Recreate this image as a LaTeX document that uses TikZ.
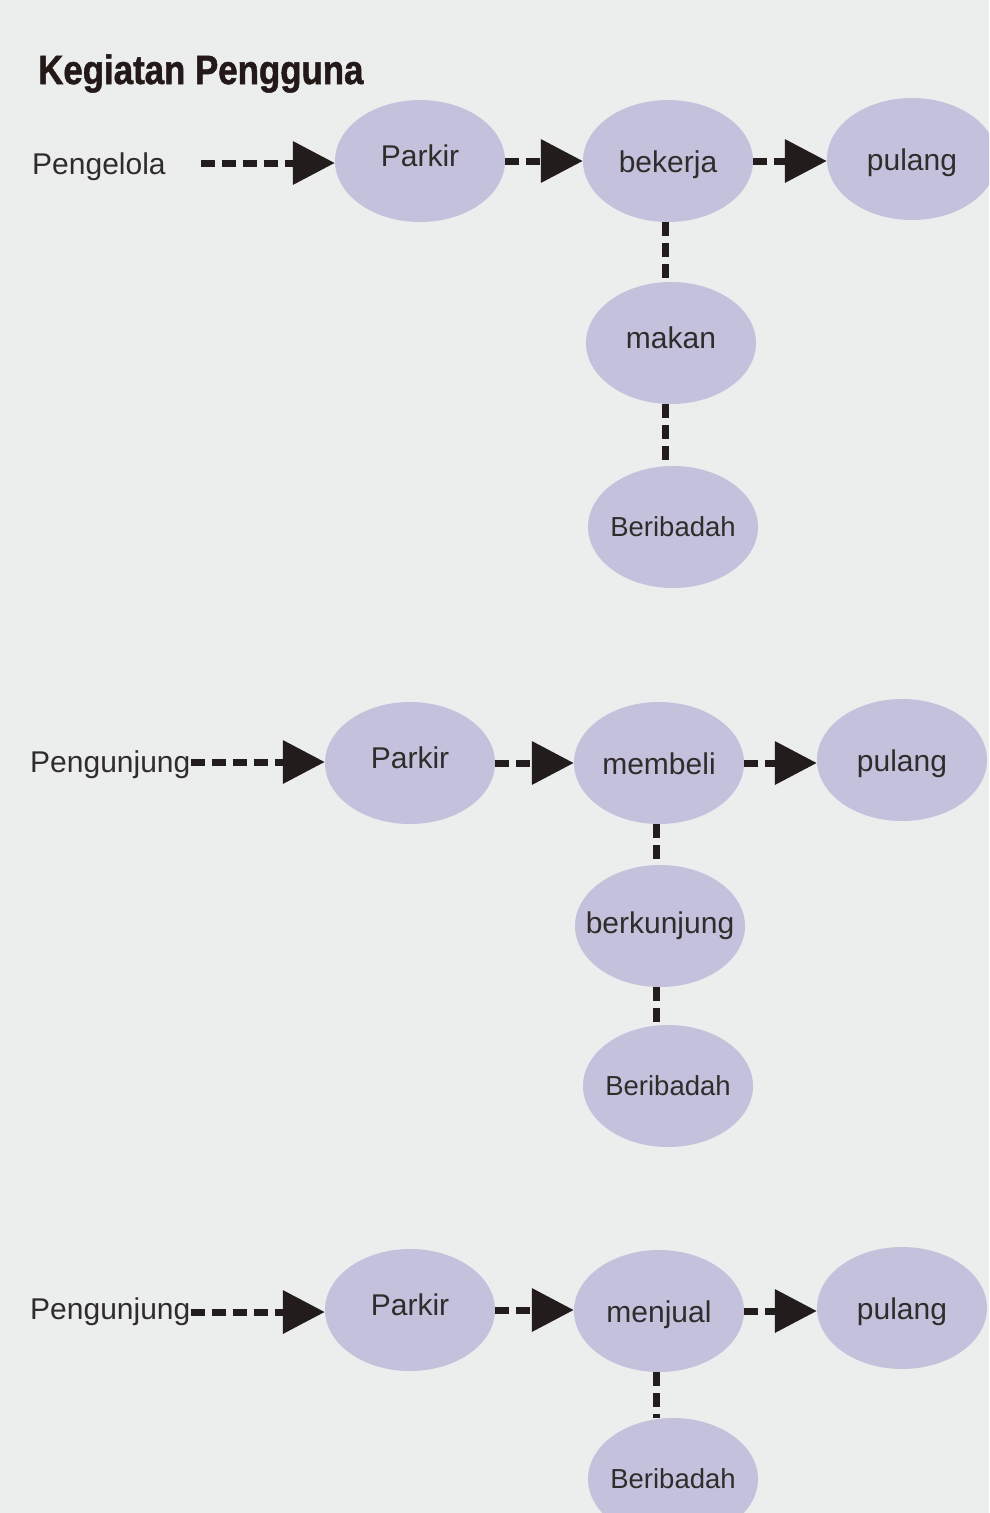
\documentclass[tikz,border=0pt]{standalone}
\usepackage{fontspec}
\setmainfont{Liberation Sans}
\newfontfamily\titlefont{Liberation Sans}[FakeStretch=0.85,FakeBold=1.2]
\usetikzlibrary{shapes.geometric,arrows.meta}
\definecolor{bg}{RGB}{236,237,237}
\definecolor{lav}{RGB}{196,193,220}
\definecolor{ink}{RGB}{48,44,44}
\definecolor{arrowc}{RGB}{35,28,28}
\definecolor{titlec}{RGB}{35,25,25}
\newcommand{\ellt}[1]{\makebox[0pt]{#1}}
\begin{document}
\begin{tikzpicture}[x=1pt,y=-1pt,
  bub/.style={ellipse, fill=lav, minimum width=170pt, minimum height=122pt, inner sep=0pt, text=ink, text height=22pt, text depth=0pt, font=\fontsize{30}{30}\selectfont},
  bubs/.style={bub, text height=20pt, text depth=1pt, font=\fontsize{27.5}{28}\selectfont},
  raised/.style={text depth=12pt},
  midraised/.style={text depth=8pt},
  actor/.style={inner sep=0pt, anchor=base west, text=ink, font=\fontsize{30}{30}\selectfont},
  flow/.style={draw=arrowc, line width=7pt, dash pattern=on 14pt off 7pt, -{Triangle[length=42pt,width=42pt]}},
  link/.style={draw=arrowc, line width=7pt, dash pattern=on 14pt off 7pt}]
\useasboundingbox (0,0) rectangle (989,1513);
\clip (0,0) rectangle (989,1513);
\fill[bg] (0,0) rectangle (989,1513);

\node[inner sep=0pt, anchor=base west, text=titlec, font=\titlefont\bfseries\fontsize{41}{41}\selectfont] (title) at (38,84) {Kegiatan Pengguna};

% Row 1
\node[actor] (g1) at (32,174) {Pengelola};
\node[bub, raised] (p1) at (420,161) {\ellt{Parkir}};
\node[bub] (w1) at (668,161) {\ellt{bekerja}};
\node[bub] (h1) at (912,159) {\ellt{pulang}};
\node[bub, raised] (m1) at (671,343) {\ellt{makan}};
\node[bubs] (b1) at (673,527) {\ellt{Beribadah}};
\coordinate (g1e) at ([yshift=11pt]g1.base east);
\draw[flow, shorten <=35pt] (g1e) -- (g1e -| p1.west);
\draw[flow] (p1.east) -- (w1.west);
\draw[flow] (w1.east) -- (w1.east -| h1.west);
\coordinate (v1) at ([xshift=-3pt]w1.south);
\draw[link] (v1) -- (v1 |- m1.north);
\draw[link] (v1 |- m1.south) -- (v1 |- b1.north);

% Row 2
\node[actor] (g2) at (30,772) {Pengunjung};
\node[bub, raised] (p2) at (410,763) {\ellt{Parkir}};
\node[bub] (w2) at (659,763) {\ellt{membeli}};
\node[bub] (h2) at (902,760) {\ellt{pulang}};
\node[bub, midraised] (k2) at (660,926) {\ellt{berkunjung}};
\node[bubs] (b2) at (668,1086) {\ellt{Beribadah}};
\coordinate (g2e) at ([yshift=10pt]g2.base east);
\draw[flow] (g2e) -- (g2e -| p2.west);
\draw[flow] (p2.east) -- (w2.west);
\draw[flow] (w2.east) -- (w2.east -| h2.west);
\coordinate (v2) at ([xshift=-3pt]w2.south);
\draw[link] (v2) -- (v2 |- k2.north);
\draw[link] (v2 |- k2.south) -- (v2 |- b2.north);

% Row 3
\node[actor] (g3) at (30,1319) {Pengunjung};
\node[bub, raised] (p3) at (410,1310) {\ellt{Parkir}};
\node[bub] (w3) at (659,1311) {\ellt{menjual}};
\node[bub] (h3) at (902,1308) {\ellt{pulang}};
\node[bubs] (b3) at (673,1479) {\ellt{Beribadah}};
\coordinate (g3e) at ([yshift=7pt]g3.base east);
\draw[flow] (g3e) -- (g3e -| p3.west);
\draw[flow] (p3.east) -- (p3.east -| w3.west);
\draw[flow] (w3.east) -- (w3.east -| h3.west);
\coordinate (v3) at ([xshift=-3pt]w3.south);
\draw[link] (v3) -- (v3 |- b3.north);
\end{tikzpicture}
\end{document}
